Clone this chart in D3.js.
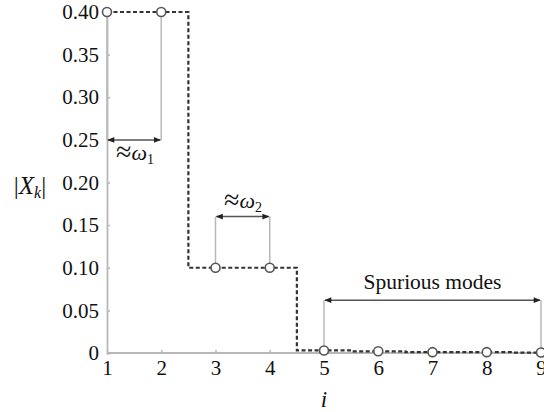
<!DOCTYPE html>
<html>
<head>
<meta charset="utf-8">
<script src="https://cdn.jsdelivr.net/npm/d3@7"></script>
<style>
  body { margin: 0; background: #fff; }
  svg text { font-family: "Liberation Serif", "Times New Roman", serif; fill: #111; }
</style>
</head>
<body>
<div id="chart"></div>
<script>
// data
var modeIndex = [1, 2, 3, 4, 5, 6, 7, 8, 9];
var modeAmp = [0.40, 0.40, 0.10, 0.10, 0.003, 0.002, 0.001, 0.001, 0.0005];
var yTicks = [0, 0.05, 0.10, 0.15, 0.20, 0.25, 0.30, 0.35, 0.40];
var yTickLabels = ["0", "0.05", "0.10", "0.15", "0.20", "0.25", "0.30", "0.35", "0.40"];
// annotations: [from i, to i, arrow height, label]
var spans = [
  { from: 1, to: 2, at: 0.25, label: "ω1" },
  { from: 3, to: 4, at: 0.16, label: "ω2" },
  { from: 5, to: 9, at: 0.062, label: "Spurious modes" }
];

var svgWidth = 544;
var svgHeight = 412;

var svg = d3.select("#chart")
  .append("svg")
  .attr("width", svgWidth)
  .attr("height", svgHeight);

var x = d3.scaleLinear().domain([1, 9]).range([107, 541]);
var y = d3.scaleLinear().domain([0, 0.40]).range([353, 12]);

var axisColor = "#b8b8b8";

svg.append("defs").append("marker")
  .attr("id", "head")
  .attr("viewBox", "0 0 10 10")
  .attr("refX", 9).attr("refY", 5)
  .attr("markerWidth", 9).attr("markerHeight", 7)
  .attr("markerUnits", "userSpaceOnUse")
  .attr("orient", "auto-start-reverse")
  .append("path")
  .attr("d", "M0,1 L10,5 L0,9 Z")
  .attr("fill", "#222");

// y axis
var leftAxis = d3.axisLeft(y)
  .tickValues(yTicks)
  .tickFormat((d, i) => yTickLabels[i])
  .tickSize(-3)
  .tickPadding(8);
var yAxis = svg.append("g")
  .attr("transform", `translate(${x(1)},0)`)
  .call(leftAxis);
yAxis.select(".domain").attr("stroke", axisColor).attr("stroke-width", 1.8);
yAxis.selectAll(".tick line").attr("stroke", axisColor).attr("stroke-width", 1.5);
yAxis.selectAll(".tick text")
  .attr("font-size", "21px")
  .attr("fill", "#111");

// x axis
var bottomAxis = d3.axisBottom(x)
  .tickValues(modeIndex)
  .tickFormat(d3.format("d"))
  .tickSize(-3)
  .tickPadding(7);
var xAxis = svg.append("g")
  .attr("transform", `translate(0,${y(0)})`)
  .call(bottomAxis);
xAxis.select(".domain").attr("d", `M${x(1)},0H${svgWidth}`).attr("stroke", axisColor).attr("stroke-width", 1.8);
xAxis.selectAll(".tick line").attr("stroke", axisColor).attr("stroke-width", 1.5);
xAxis.selectAll(".tick text")
  .attr("font-size", "21px")
  .attr("fill", "#111");

// annotation guides
spans.forEach(function(s) {
  [s.from, s.to].forEach(function(k) {
    svg.append("line")
      .attr("x1", x(k)).attr("x2", x(k))
      .attr("y1", y(modeAmp[k - 1])).attr("y2", y(s.at))
      .attr("stroke", axisColor)
      .attr("stroke-width", 1.5);
  });
  svg.append("line")
    .attr("x1", x(s.from) + 1).attr("x2", x(s.to) - 1)
    .attr("y1", y(s.at)).attr("y2", y(s.at))
    .attr("stroke", "#555")
    .attr("stroke-width", 1.5)
    .attr("marker-start", "url(#head)")
    .attr("marker-end", "url(#head)");
});

// step line
var line = d3.line()
  .x((d, i) => x(modeIndex[i]))
  .y(d => y(d))
  .curve(d3.curveStep);
svg.append("path")
  .datum(modeAmp)
  .attr("d", line)
  .attr("fill", "none")
  .attr("stroke", "#333")
  .attr("stroke-width", 2.2)
  .attr("stroke-dasharray", "4,2.5");

// points
svg.selectAll("circle.pt")
  .data(modeAmp)
  .enter()
  .append("circle")
  .attr("class", "pt")
  .attr("cx", (d, i) => x(modeIndex[i]))
  .attr("cy", d => y(d))
  .attr("r", 4.5)
  .attr("fill", "#fff")
  .attr("stroke", "#555")
  .attr("stroke-width", 1.6);

// labels
function approxLabel(cx, cy, sub) {
  var t = svg.append("text")
    .attr("x", cx).attr("y", cy)
    .attr("text-anchor", "middle")
    .attr("font-size", "22px");
  t.append("tspan").attr("font-size", "28px").attr("dy", 1).text("≈");
  t.append("tspan").attr("font-style", "italic").attr("dy", -1).text("ω");
  t.append("tspan").attr("font-size", "14px").attr("dy", 4).text(sub);
}
approxLabel(135, 160, "1");
approxLabel(243, 208, "2");

svg.append("text")
  .attr("x", (x(5) + x(9)) / 2)
  .attr("y", 289)
  .attr("text-anchor", "middle")
  .attr("font-size", "21.5px")
  .text("Spurious modes");

// axis titles
var yl = svg.append("text")
  .attr("x", 30).attr("y", 194)
  .attr("text-anchor", "middle")
  .attr("font-size", "25px");
yl.append("tspan").text("|");
yl.append("tspan").attr("font-style", "italic").text("X");
yl.append("tspan").attr("font-style", "italic").attr("font-size", "16px").attr("dy", 4).text("k");
yl.append("tspan").attr("dy", -4).text("|");

svg.append("text")
  .attr("x", x(5))
  .attr("y", 407)
  .attr("text-anchor", "middle")
  .attr("font-size", "23px")
  .attr("font-style", "italic")
  .text("i");
</script>
</body>
</html>
